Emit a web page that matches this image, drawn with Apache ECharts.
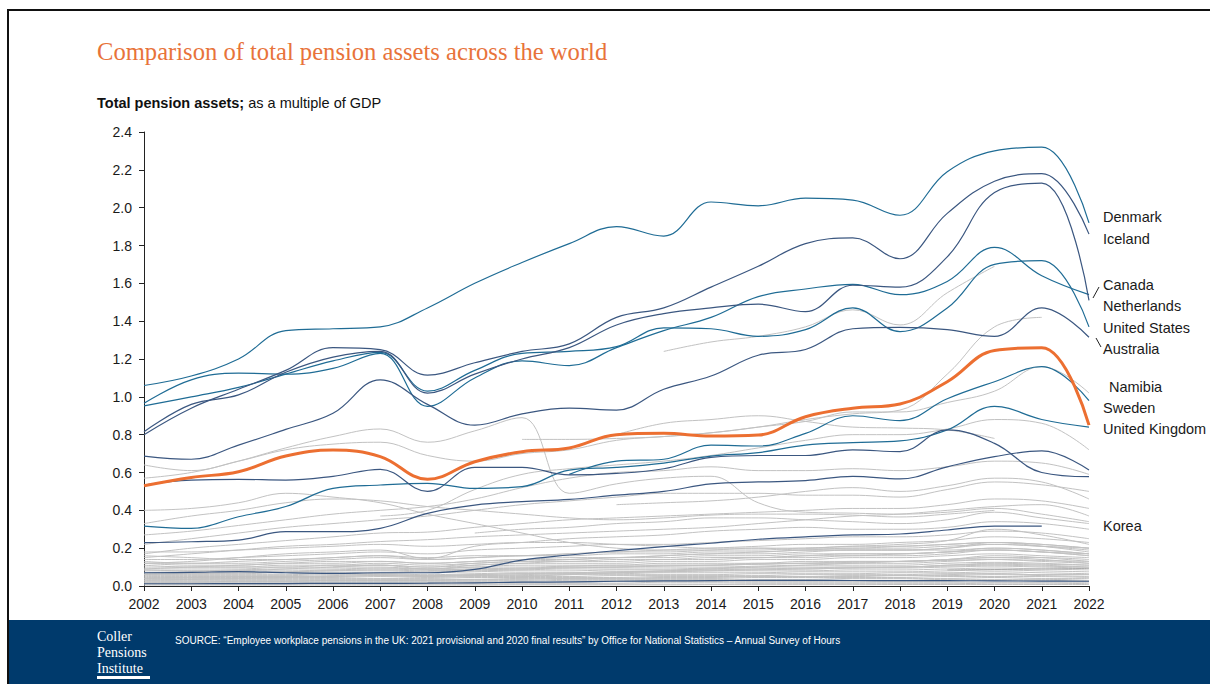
<!DOCTYPE html>
<html>
<head>
<meta charset="utf-8">
<script src="https://cdn.jsdelivr.net/npm/echarts@6/dist/echarts.min.js"></script>
<style>
html,body{margin:0;padding:0;background:#fff;}
#chart{width:1210px;height:684px;}
</style>
</head>
<body>
<div id="chart"></div>
<script>
// ---------- DATA ----------
const years = ['2002','2003','2004','2005','2006','2007','2008','2009','2010','2011','2012','2013','2014','2015','2016','2017','2018','2019','2020','2021','2022'];
const yTicks = [0,0.2,0.4,0.6,0.8,1.0,1.2,1.4,1.6,1.8,2.0,2.2,2.4];

// highlighted countries
const denmark     = [1.06,1.11,1.20,1.35,1.36,1.37,1.47,1.60,1.71,1.81,1.90,1.85,2.03,2.01,2.05,2.04,1.96,2.19,2.30,2.32,1.92];
const iceland     = [0.80,0.94,1.04,1.14,1.26,1.25,1.115,1.18,1.24,1.28,1.42,1.47,1.58,1.69,1.81,1.84,1.73,1.97,2.14,2.18,1.86];
const canada      = [0.816,0.96,1.01,1.13,1.21,1.24,1.02,1.12,1.20,1.26,1.38,1.44,1.47,1.49,1.45,1.59,1.58,1.74,2.08,2.13,1.51];
const netherlands = [0.966,1.09,1.125,1.12,1.15,1.23,0.95,1.10,1.19,1.165,1.26,1.35,1.42,1.53,1.57,1.595,1.54,1.61,1.79,1.64,1.54];
const unitedStates= [0.952,1.00,1.05,1.12,1.19,1.235,1.03,1.14,1.23,1.24,1.265,1.365,1.36,1.32,1.355,1.47,1.345,1.47,1.70,1.72,1.37];
const australia   = [0.687,0.67,0.745,0.828,0.913,1.09,0.96,0.85,0.91,0.94,0.93,1.04,1.11,1.22,1.25,1.36,1.367,1.355,1.32,1.47,1.315];
const sweden      = [null,null,null,null,null,null,null,null,null,0.59,0.66,0.67,0.745,0.74,0.807,0.90,0.874,0.99,1.08,1.16,0.98];
const tealLow     = [0.317,0.305,0.366,0.42,0.516,0.534,0.543,0.516,0.525,0.613,0.627,0.65,0.687,0.705,0.745,0.758,0.767,0.825,0.95,0.88,0.84];
const darkMid     = [0.534,0.56,0.564,0.56,0.58,0.617,0.50,0.627,0.627,0.587,0.595,0.62,0.68,0.69,0.69,0.72,0.71,0.825,0.754,0.60,0.578];
const darkLow     = [0.229,0.234,0.243,0.287,0.287,0.305,0.384,0.428,0.446,0.458,0.48,0.50,0.54,0.55,0.557,0.58,0.566,0.63,0.684,0.714,0.613];
const korea       = [0.07,0.072,0.076,0.07,0.067,0.07,0.07,0.088,0.137,0.164,0.187,0.208,0.226,0.247,0.26,0.27,0.275,0.296,0.317,0.317,null];
const darkBottom  = [0.012,0.012,0.013,0.013,0.014,0.014,0.015,0.017,0.02,0.022,0.025,0.027,0.028,0.03,0.03,0.029,0.028,0.028,0.027,0.026,0.025];
const unitedKingdom=[0.53,0.574,0.604,0.687,0.719,0.684,0.564,0.657,0.71,0.73,0.80,0.807,0.793,0.798,0.895,0.94,0.962,1.08,1.245,1.26,0.85];

// other countries (grey)
const namibia = [0.64,0.61,0.66,0.72,0.75,0.76,0.69,0.66,0.70,0.72,0.77,0.79,0.81,0.84,0.87,0.92,0.92,0.97,1.03,1.16,1.02];
const g02 = [0.57,0.60,0.66,0.73,0.79,0.83,0.76,0.82,0.89,0.49,0.54,0.57,0.58,0.44,0.39,0.385,0.38,0.39,0.41,0.38,0.34];
const g03 = [null,null,null,null,null,null,null,null,null,null,null,1.24,1.29,1.32,1.37,1.46,1.38,1.55,1.69,null,null];
const g04 = [null,null,null,null,null,null,null,null,0.775,0.775,0.78,0.79,0.81,0.84,0.88,0.91,0.93,1.12,1.37,1.42,null];
const g05 = [null,null,null,null,null,null,null,null,null,null,0.80,0.86,0.88,0.90,0.87,0.84,0.835,0.825,0.78,null,null];
const g06 = [null,null,null,null,null,0.37,0.40,0.51,0.59,0.62,0.64,0.66,0.69,0.73,0.77,0.80,0.80,0.83,0.88,0.86,0.72];
const g07 = [0.40,0.41,0.44,0.49,0.47,0.44,0.38,0.33,0.28,0.23,0.20,0.19,0.19,0.19,0.20,0.20,0.21,0.22,0.23,0.22,0.20];
const g08 = [0.33,0.37,0.40,0.44,0.46,0.45,0.42,0.40,0.38,0.36,0.35,0.36,0.375,0.38,0.38,0.375,0.365,0.38,0.40,null,null];
const g09 = [0.22,0.25,0.28,0.31,0.33,0.35,0.37,0.40,0.43,0.45,0.47,0.49,0.49,0.49,0.48,0.48,0.47,0.51,0.55,0.535,0.50];
const g10 = [0.27,0.29,0.32,0.35,0.38,0.40,0.42,0.46,0.52,0.57,0.60,0.61,0.63,0.61,0.61,0.62,0.61,0.63,0.66,0.65,0.59];
const g11 = [null,null,null,null,null,null,null,null,null,null,0.43,0.44,0.45,0.47,0.50,0.52,0.50,0.53,0.57,0.55,0.46];
const g12 = [0.17,0.20,0.22,0.24,0.26,0.28,0.285,0.31,0.33,0.35,0.36,0.37,0.38,0.39,0.40,0.41,0.41,0.43,0.46,0.45,0.41];
const g13 = [0.15,0.17,0.19,0.21,0.22,0.235,0.245,0.26,0.27,0.28,0.29,0.30,0.31,0.33,0.35,0.37,0.38,0.40,0.42,0.43,0.37];
const g14 = [0.12,0.13,0.15,0.17,0.18,0.19,0.145,0.21,0.23,0.25,0.26,0.27,0.29,0.30,0.31,0.30,0.30,0.31,0.34,0.33,0.30];
const g17 = [null,null,null,null,null,null,null,0.28,0.30,0.31,0.33,0.34,0.36,0.36,0.35,0.34,0.33,0.35,0.39,0.36,0.33];
const g18 = [null,null,null,null,null,null,null,null,null,null,null,null,null,null,0.20,0.21,0.22,0.24,0.30,0.27,0.22];
const lo01 = [0.14,0.14,0.15,0.16,0.17,0.18,0.17,0.19,0.20,0.21,0.22,0.22,0.23,0.24,0.25,0.26,0.26,0.27,0.29,0.28,0.25];
const lo02 = [0.13,0.12,0.12,0.13,0.14,0.15,0.14,0.15,0.16,0.17,0.18,0.19,0.20,0.21,0.22,0.22,0.23,0.24,0.26,0.25,0.23];
const lo03 = [0.12,0.11,0.11,0.12,0.12,0.13,0.12,0.13,0.14,0.15,0.15,0.16,0.17,0.17,0.18,0.19,0.19,0.20,0.22,0.21,0.19];
const lo04 = [0.11,0.10,0.10,0.11,0.11,0.12,0.11,0.12,0.13,0.13,0.14,0.14,0.15,0.15,0.16,0.16,0.17,0.18,0.20,0.19,0.17];
const lo05 = [0.10,0.10,0.10,0.10,0.11,0.11,0.10,0.11,0.12,0.12,0.12,0.13,0.13,0.14,0.14,0.15,0.15,0.16,0.17,0.16,0.15];
const lo06 = [0.09,0.09,0.09,0.10,0.10,0.10,0.09,0.10,0.11,0.11,0.11,0.12,0.12,0.12,0.13,0.13,0.13,0.14,0.15,0.15,0.14];
const lo07 = [0.085,0.08,0.085,0.09,0.09,0.095,0.09,0.10,0.10,0.105,0.11,0.11,0.11,0.115,0.12,0.12,0.12,0.13,0.14,0.13,0.12];
const lo08 = [0.08,0.08,0.08,0.08,0.085,0.09,0.085,0.09,0.095,0.10,0.10,0.10,0.10,0.105,0.11,0.11,0.11,0.12,0.125,0.12,0.11];
const lo09 = [0.07,0.07,0.07,0.075,0.08,0.08,0.075,0.08,0.085,0.09,0.09,0.09,0.095,0.10,0.10,0.10,0.10,0.11,0.115,0.11,0.10];
const lo10 = [0.065,0.065,0.065,0.07,0.07,0.07,0.07,0.075,0.08,0.08,0.085,0.085,0.09,0.09,0.09,0.095,0.095,0.10,0.105,0.10,0.095];
const lo11 = [0.06,0.06,0.06,0.06,0.065,0.065,0.06,0.065,0.07,0.07,0.075,0.075,0.08,0.08,0.08,0.085,0.085,0.09,0.095,0.09,0.085];
const lo12 = [0.055,0.055,0.055,0.055,0.06,0.06,0.055,0.06,0.065,0.065,0.065,0.07,0.07,0.07,0.075,0.075,0.075,0.08,0.085,0.08,0.075];
const lo13 = [0.05,0.05,0.05,0.05,0.05,0.055,0.05,0.055,0.055,0.06,0.06,0.06,0.06,0.065,0.065,0.065,0.07,0.07,0.075,0.07,0.065];
const lo14 = [0.045,0.045,0.045,0.045,0.045,0.05,0.045,0.05,0.05,0.05,0.055,0.055,0.055,0.055,0.06,0.06,0.06,0.065,0.065,0.06,0.06];
const lo15 = [0.04,0.04,0.04,0.04,0.04,0.04,0.04,0.045,0.045,0.045,0.045,0.05,0.05,0.05,0.05,0.05,0.055,0.055,0.06,0.055,0.05];
const lo16 = [0.035,0.035,0.035,0.035,0.035,0.035,0.035,0.035,0.04,0.04,0.04,0.04,0.04,0.045,0.045,0.045,0.045,0.05,0.05,0.05,0.045];
const lo17 = [0.03,0.03,0.03,0.03,0.03,0.03,0.03,0.03,0.03,0.035,0.035,0.035,0.035,0.035,0.035,0.04,0.04,0.04,0.045,0.04,0.04];
const lo18 = [0.025,0.025,0.025,0.025,0.025,0.025,0.025,0.025,0.025,0.03,0.03,0.03,0.03,0.03,0.03,0.03,0.03,0.035,0.035,0.035,0.03];
const lo19 = [0.02,0.02,0.02,0.02,0.02,0.02,0.02,0.02,0.02,0.02,0.025,0.025,0.025,0.025,0.025,0.025,0.025,0.025,0.03,0.03,0.025];
const lo20 = [0.015,0.015,0.015,0.015,0.015,0.015,0.015,0.015,0.015,0.015,0.015,0.02,0.02,0.02,0.02,0.02,0.02,0.02,0.02,0.02,0.02];
const lo21 = [0.01,0.01,0.01,0.01,0.01,0.01,0.01,0.01,0.01,0.01,0.01,0.01,0.01,0.012,0.012,0.012,0.012,0.012,0.015,0.015,0.012];
const lo22 = [0.005,0.005,0.005,0.005,0.005,0.005,0.005,0.005,0.006,0.006,0.006,0.006,0.007,0.007,0.007,0.007,0.008,0.008,0.008,0.008,0.008];
const lo23 = [0.16,0.15,0.14,0.14,0.15,0.16,0.14,0.15,0.16,0.16,0.17,0.17,0.18,0.18,0.19,0.19,0.19,0.20,0.23,0.21,0.18];
const lo24 = [null,null,null,null,0.10,0.11,0.10,0.12,0.13,0.14,0.15,0.16,0.17,0.18,0.19,0.20,0.20,0.21,0.22,0.21,0.20];
const lo25 = [null,null,null,null,null,null,null,null,0.05,0.06,0.07,0.08,0.09,0.10,0.11,0.12,0.13,0.14,0.16,0.15,0.13];
const lo26 = [0.12,0.12,0.13,0.14,0.15,0.16,0.15,0.16,0.16,0.17,0.18,0.18,0.19,0.20,0.20,0.21,0.21,0.22,0.23,0.22,0.20];
const lo27 = [0.09,0.10,0.11,0.12,0.13,0.13,0.12,0.13,0.14,0.14,0.15,0.15,0.16,0.16,0.17,0.17,0.17,0.18,0.19,0.18,0.17];
const lo28 = [0.06,0.065,0.07,0.075,0.08,0.085,0.08,0.085,0.09,0.095,0.10,0.105,0.11,0.115,0.12,0.125,0.13,0.135,0.14,0.135,0.13];
const lo29 = [0.03,0.035,0.04,0.045,0.05,0.055,0.05,0.055,0.06,0.065,0.07,0.075,0.08,0.085,0.09,0.095,0.10,0.105,0.11,0.105,0.10];
const lo30 = [0.07,0.075,0.08,0.09,0.10,0.11,0.09,0.11,0.12,0.13,0.13,0.14,0.14,0.15,0.15,0.16,0.16,0.17,0.19,0.18,0.16];
const lo31 = [null,null,null,null,null,null,0.08,0.09,0.09,0.10,0.10,0.11,0.11,0.12,0.12,0.13,0.13,0.14,0.15,0.14,0.12];
const lo32 = [0.18,0.18,0.19,0.20,0.21,0.22,0.21,0.22,0.23,0.23,0.22,0.21,0.20,0.20,0.19,0.19,0.19,0.19,0.20,0.19,0.17];
const lo33 = [null,null,null,null,null,null,null,null,null,null,null,null,0.15,0.15,0.16,0.17,0.17,0.18,0.19,0.18,0.16];
const lo34 = [0.04,0.045,0.05,0.05,0.055,0.06,0.055,0.06,0.065,0.07,0.075,0.08,0.085,0.09,0.095,0.10,0.10,0.11,0.12,0.115,0.11];
const lo35 = [0.02,0.02,0.025,0.025,0.03,0.03,0.03,0.035,0.035,0.04,0.04,0.045,0.045,0.05,0.05,0.055,0.055,0.06,0.065,0.06,0.06];
const darkGrey = [null,null,null,null,null,null,null,null,null,null,null,null,null,null,null,null,null,0.085,0.087,0.09,0.093];

const greyLines = [namibia,g02,g03,g04,g05,g06,g07,g08,g09,g10,g11,g12,g13,g14,g17,g18,
  lo01,lo02,lo03,lo04,lo05,lo06,lo07,lo08,lo09,lo10,lo11,lo12,lo13,lo14,lo15,lo16,lo17,lo18,lo19,lo20,lo21,lo22,
  lo23,lo24,lo25,lo26,lo27,lo28,lo29,lo30,lo31,lo32,lo33,lo34,lo35];
const tealLines = [denmark,netherlands,unitedStates,sweden,tealLow];
const navyLines = [iceland,canada,australia,darkMid,darkLow,korea,darkBottom];

const endLabels = ['Denmark','Iceland','Canada','Netherlands','United States','Australia','Namibia','Sweden','United Kingdom','Korea'];

// ---------- CHART ----------
const TEAL = '#1f6c95', NAVY = '#3b5780', GREY = '#c2c2c2', ORANGE = '#ec6f31';
const chart = echarts.init(document.getElementById('chart'), null, {renderer:'svg'});

function lineSeries(data, color, width, z){
  return {type:'line', data:data, smooth:0.4, smoothConstraint:false, symbol:'none', silent:true, z:z,
    connectNulls:false, lineStyle:{color:color, width:width}};
}
const series = [];
greyLines.forEach(d => series.push(lineSeries(d, GREY, 1, 2)));
series.push(lineSeries(darkGrey, '#a9a9a9', 1, 2));
tealLines.forEach(d => series.push(lineSeries(d, TEAL, 1.2, 3)));
navyLines.forEach(d => series.push(lineSeries(d, NAVY, 1.2, 3)));
series.push(lineSeries(unitedKingdom, ORANGE, 3, 5));

const labelFont = '"Liberation Sans", Arial, sans-serif';
const labelY = [217,239,285,306,328,349,387,408,429,526];
const labelX = [1103,1103,1103,1103,1103,1103,1109,1103,1103,1103];

const graphics = [
  {type:'rect', shape:{x:9, y:620, width:1201, height:64}, style:{fill:'#003a6c'}, silent:true},
  {type:'line', shape:{x1:8, y1:10, x2:8, y2:684}, style:{stroke:'#111', lineWidth:2}},
  {type:'line', shape:{x1:7, y1:10, x2:1210, y2:10}, style:{stroke:'#111', lineWidth:2}},
  {type:'text', left:97, top:39, style:{text:'Comparison of total pension assets across the world',
     fill:'#e8733a', font:'24.6px "Liberation Serif", "DejaVu Serif", serif'}},
  {type:'text', left:97, top:95, style:{text:'{b|Total pension assets;} as a multiple of GDP',
     fill:'#111', font:'14.5px '+labelFont,
     rich:{b:{fontWeight:'bold', fontSize:14.5, fontFamily:'"Liberation Sans", Arial, sans-serif', fill:'#111'}}}},
  {type:'text', left:97, top:628, style:{text:'Coller\nPensions\nInstitute', fill:'#fff',
     font:'14px "Liberation Serif", serif', lineHeight:16}},
  {type:'rect', shape:{x:97, y:676, width:53, height:3}, style:{fill:'#fff'}},
  {type:'text', left:175, top:635, style:{text:'SOURCE: \u201cEmployee workplace pensions in the UK: 2021 provisional and 2020 final results\u201d by Office for National Statistics \u2013 Annual Survey of Hours',
     fill:'#fff', font:'10px "Liberation Sans Narrow", "Liberation Sans", Arial, sans-serif'}},
  {type:'line', shape:{x1:1093, y1:298, x2:1099, y2:287}, style:{stroke:'#222', lineWidth:1}},
  {type:'line', shape:{x1:1096, y1:338, x2:1101, y2:347}, style:{stroke:'#222', lineWidth:1}}
];
endLabels.forEach((t,i) => graphics.push({type:'text', x:labelX[i], y:labelY[i],
  style:{text:t, fill:'#1a1a1a', font:'14.5px '+labelFont, textVerticalAlign:'middle', verticalAlign:'middle'}}));

chart.setOption({
  animation:false,
  backgroundColor:'#fff',
  grid:{left:144, right:121, top:132, bottom:98, containLabel:false},
  xAxis:{type:'category', data:years, boundaryGap:false,
    axisLine:{lineStyle:{color:'#222', width:1}},
    axisTick:{show:true, length:5, interval:0, lineStyle:{color:'#222'}},
    axisLabel:{interval:0, margin:11, color:'#1a1a1a', fontSize:14, fontFamily:labelFont},
    splitLine:{show:false}},
  yAxis:{type:'value', min:yTicks[0], max:yTicks[yTicks.length-1], interval:0.2,
    axisLine:{show:true, lineStyle:{color:'#222', width:1}},
    axisTick:{show:true, length:5, lineStyle:{color:'#222'}},
    axisLabel:{margin:12, color:'#1a1a1a', fontSize:14, fontFamily:labelFont, formatter:v => v.toFixed(1)},
    splitLine:{show:false}},
  series:series,
  graphic:graphics
});
</script>
</body>
</html>
